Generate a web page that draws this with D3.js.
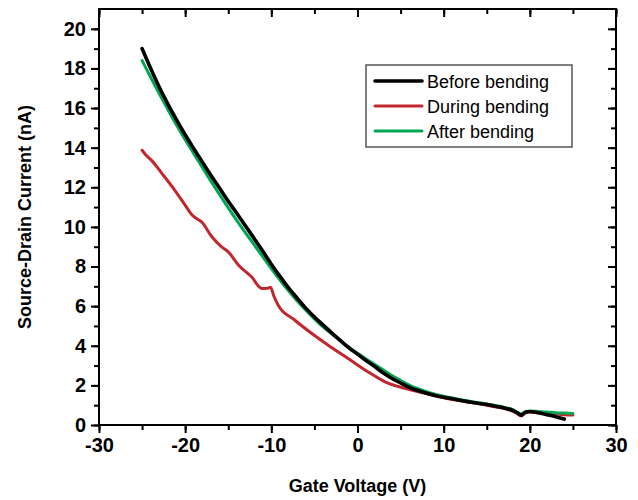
<!DOCTYPE html>
<html>
<head>
<meta charset="utf-8">
<script src="https://cdn.jsdelivr.net/npm/d3@7"></script>
<style>
  body { margin: 0; background: #fff; }
  text { font-family: "Liberation Sans", Arial, sans-serif; }
</style>
</head>
<body>
<svg id="chart"></svg>
<script>
  const margin = {top: 9, right: 22, bottom: 75, left: 99},
        width = 638 - margin.left - margin.right,
        height = 500 - margin.top - margin.bottom;

  // Gate voltage (V) and source-drain current (nA)
  const beforeV = [-25, -24, -23, -22, -21, -20, -19, -18, -17, -16, -15, -14, -13, -12, -11, -10, -9, -8, -7, -6, -5, -4, -3, -2, -1, 0, 1, 2, 3, 4, 5, 6, 7, 8, 9, 10, 11, 12, 13, 14, 15, 16, 17, 18, 18.5, 19, 19.5, 20, 21, 22, 23, 24];
  const beforeI = [19.0, 18.0, 17.05, 16.2, 15.4, 14.65, 13.95, 13.27, 12.6, 11.95, 11.3, 10.68, 10.05, 9.42, 8.78, 8.12, 7.5, 6.92, 6.4, 5.9, 5.45, 5.05, 4.65, 4.27, 3.9, 3.58, 3.25, 2.95, 2.62, 2.35, 2.12, 1.9, 1.74, 1.61, 1.49, 1.4, 1.32, 1.24, 1.16, 1.1, 1.03, 0.95, 0.86, 0.74, 0.63, 0.5, 0.65, 0.68, 0.62, 0.52, 0.42, 0.3];

  const duringV = [-25, -24.5, -23.9, -22.7, -21.2, -20, -19.2, -18.6, -18.1, -16.9, -15.8, -15, -13.8, -12.3, -11.1, -10.5, -10.1, -9.7, -9.2, -7.3, -5.3, -3.4, -1.1, 1.2, 3.2, 5.5, 7.8, 10, 12, 14, 16, 17, 18, 18.5, 19, 19.5, 20, 21, 22, 23, 24, 25];
  const duringI = [13.87, 13.6, 13.36, 12.7, 11.85, 11.1, 10.6, 10.4, 10.25, 9.5, 9.0, 8.74, 8.07, 7.48, 6.89, 6.9, 6.95, 6.5, 6.05, 5.3, 4.62, 4.03, 3.36, 2.69, 2.18, 1.85, 1.6, 1.38, 1.22, 1.08, 0.92, 0.84, 0.7, 0.58, 0.45, 0.62, 0.66, 0.62, 0.58, 0.55, 0.52, 0.5];

  const afterV = [-25, -24, -23, -22, -21, -20, -19, -18, -17, -16, -15, -14, -13, -12, -11, -10, -9, -8, -7, -6, -5, -4, -3, -2, -1, 0, 1, 2, 3, 4, 5, 6, 7, 8, 9, 10, 11, 12, 13, 14, 15, 16, 17, 18, 18.5, 19, 19.5, 20, 21, 22, 23, 24, 25];
  const afterI = [18.4, 17.55, 16.72, 15.92, 15.14, 14.4, 13.7, 13.0, 12.3, 11.62, 10.96, 10.32, 9.7, 9.1, 8.5, 7.9, 7.32, 6.77, 6.26, 5.8, 5.36, 4.95, 4.6, 4.25, 3.92, 3.62, 3.33, 3.05, 2.78, 2.5, 2.25, 2.02, 1.83, 1.68, 1.55, 1.45, 1.36, 1.28, 1.2, 1.13, 1.06, 0.98, 0.9, 0.78, 0.65, 0.55, 0.68, 0.7, 0.68, 0.66, 0.62, 0.6, 0.58];

  const seriesNames = ["Before bending", "During bending", "After bending"];
  const seriesColors = ["#000000", "#c1272d", "#00a651"];

  const xTicks = [-30, -20, -10, 0, 10, 20, 30];
  const yTicks = [0, 2, 4, 6, 8, 10, 12, 14, 16, 18, 20];

  const zip = (xs, ys) => xs.map((v, i) => ({v: v, i: ys[i]}));
  const series = [
    {name: seriesNames[0], color: seriesColors[0], data: zip(beforeV, beforeI), w: 3.6},
    {name: seriesNames[1], color: seriesColors[1], data: zip(duringV, duringI), w: 3},
    {name: seriesNames[2], color: seriesColors[2], data: zip(afterV, afterI), w: 3}
  ];

  let x = d3.scaleLinear().domain([-30, 30]).range([0, width]);
  let y = d3.scaleLinear().domain([0, 21]).range([height, 0]);

  let svg = d3.select("#chart")
              .attr("width", width + margin.left + margin.right)
              .attr("height", height + margin.top + margin.bottom);

  let chart = svg.append("g")
                 .attr("transform", "translate(" + margin.left + "," + margin.top + ")");

  let line = d3.line()
               .x((d) => { return x(d.v); })
               .y((d) => { return y(d.i); })
               .curve(d3.curveMonotoneX);

  // Data lines (red under green under black)
  [series[1], series[2], series[0]].forEach((s) => {
    chart.append("path")
         .datum(s.data)
         .attr("d", line)
         .style("fill", "none")
         .style("stroke", s.color)
         .style("stroke-width", s.w)
         .style("stroke-linejoin", "round")
         .style("stroke-linecap", "round");
  });

  const minorX = d3.range(-30, 31, 5),
        minorY = d3.range(0, 21, 1);

  // plain hyphen instead of d3's unicode minus
  const plain = (d) => String(d);

  function styleAxis (g) {
    g.select(".domain").remove();
    g.selectAll("line").attr("stroke", "#000").attr("stroke-width", 2);
    g.selectAll("text")
     .attr("font-size", 20)
     .attr("font-weight", "bold")
     .attr("fill", "#000");
  }

  // Minor ticks
  chart.append("g").attr("transform", "translate(0," + height + ")")
       .call(d3.axisBottom(x).tickValues(minorX).tickSize(5).tickFormat(""))
       .call(styleAxis);
  chart.append("g")
       .call(d3.axisTop(x).tickValues(minorX).tickSize(-5).tickFormat(""))
       .call(styleAxis);
  chart.append("g")
       .call(d3.axisLeft(y).tickValues(minorY).tickSize(5).tickFormat(""))
       .call(styleAxis);
  chart.append("g").attr("transform", "translate(" + width + ",0)")
       .call(d3.axisRight(y).tickValues(minorY).tickSize(-5).tickFormat(""))
       .call(styleAxis);

  // Major ticks with labels
  chart.append("g").attr("transform", "translate(0," + height + ")")
       .call(d3.axisBottom(x).tickValues(xTicks).tickSize(8).tickPadding(5).tickFormat(plain))
       .call(styleAxis);
  chart.append("g")
       .call(d3.axisTop(x).tickValues(xTicks).tickSize(-8).tickFormat(""))
       .call(styleAxis);
  chart.append("g")
       .call(d3.axisLeft(y).tickValues(yTicks).tickSize(8).tickPadding(5).tickFormat(plain))
       .call(styleAxis);
  chart.append("g").attr("transform", "translate(" + width + ",0)")
       .call(d3.axisRight(y).tickValues(yTicks).tickSize(-8).tickFormat(""))
       .call(styleAxis);

  // Border
  chart.append("rect")
       .attr("width", width)
       .attr("height", height)
       .style("stroke", "#000")
       .style("stroke-width", 2)
       .style("fill", "none");

  // x-Axis Label
  chart.append("text")
       .attr("text-anchor", "middle")
       .attr("x", width / 2)
       .attr("y", height + 67)
       .attr("font-size", 18)
       .attr("font-weight", "bold")
       .text("Gate Voltage (V)");

  // y-Axis Label
  chart.append("text")
       .attr("transform", "rotate(-90)")
       .attr("x", 0 - height / 2)
       .attr("y", 0 - margin.left + 31)
       .attr("text-anchor", "middle")
       .attr("font-size", 18)
       .attr("font-weight", "bold")
       .text("Source-Drain Current (nA)");

  // Legend
  let legend = svg.append("g").attr("transform", "translate(366,65)");
  legend.append("rect")
        .attr("width", 206)
        .attr("height", 82)
        .style("fill", "#fff")
        .style("stroke", "#555")
        .style("stroke-width", 1.5);

  series.forEach((s, k) => {
    let row = legend.append("g").attr("transform", "translate(0," + (16 + k * 25) + ")");
    row.append("line")
       .attr("x1", 9).attr("x2", 56)
       .attr("stroke", s.color)
       .attr("stroke-width", k === 0 ? 3.6 : 3)
       .attr("stroke-linecap", "round");
    row.append("text")
       .attr("x", 61)
       .attr("y", 6.5)
       .attr("font-size", 18)
       .text(s.name);
  });
</script>
</body>
</html>
